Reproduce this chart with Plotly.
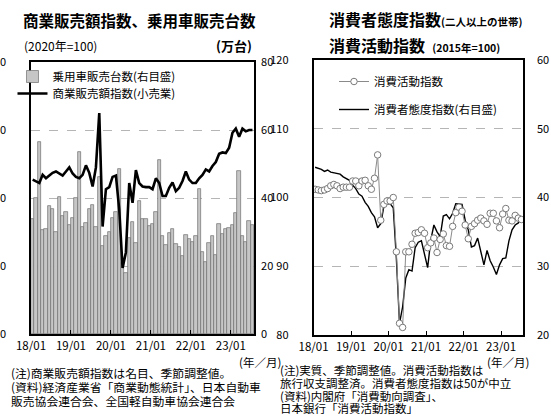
import plotly.graph_objects as go
import numpy as np

# ---------------- data ----------------
# monthly, 2018/01 .. 2023/07 (67 months)
year_ticks = ["18/01", "19/01", "20/01", "21/01", "22/01", "23/01"]

# 乗用車販売台数 (万台, right axis of left panel)
car_sales = [
    33.9, 40.0, 56.4, 30.6, 30.8, 37.7, 36.8, 30.0, 40.3, 34.8, 35.8, 32.0,
    34.2, 40.0, 53.5, 31.4, 32.6, 36.7, 37.9, 31.6, 46.1, 26.0, 28.7, 30.0,
    34.0, 36.0, 48.4, 21.0, 17.8, 28.2, 32.8, 26.9, 39.2, 33.9, 33.9, 31.8,
    32.4, 36.0, 51.3, 28.9, 26.2, 29.6, 30.8, 26.5, 25.7, 22.9, 29.0, 27.9,
    27.2, 28.9, 42.6, 24.2, 21.1, 26.7, 28.7, 23.2, 32.4, 29.4, 30.8, 31.1,
    32.0, 35.5, 47.9, 28.9, 27.2, 33.1, 32.1,
]

# 商業販売額指数(小売業), 2020=100 (left axis of left panel)
retail_index = [
    102.7, 102.5, 102.2, 103.4, 102.9, 103.3, 103.7, 103.9, 103.6, 103.3, 103.9, 104.5,
    103.6, 103.1, 102.9, 103.4, 104.8, 103.7, 101.7, 104.5, 112.5, 95.8, 101.3, 101.6,
    103.1, 103.3, 98.3, 89.7, 92.0, 102.2, 99.3, 104.1, 102.2, 101.7, 101.6, 101.6,
    101.3, 102.9, 102.2, 100.3, 100.3, 101.5, 102.3, 101.0, 101.5, 102.5, 103.9, 102.7,
    102.2, 102.2, 102.9, 103.4, 104.2, 103.9, 104.7, 105.3, 106.5, 106.7, 106.6, 107.4,
    109.6, 110.2, 109.0, 110.2, 109.8, 110.0, 110.0,
]

# 消費活動指数, 2015=100 (left axis of right panel)
activity_index = [
    101.2, 101.1, 101.0, 101.1, 101.3, 101.7, 101.9, 101.7, 101.3, 101.5, 101.5, 101.5,
    102.4, 102.4, 101.7, 102.4, 102.5, 101.7, 101.2, 102.8, 106.2, 96.7, 99.0, 99.5,
    99.5, 100.0, 92.1, 81.7, 81.1, 92.1, 92.1, 93.2, 94.8, 94.9, 95.3, 94.8,
    92.7, 93.4, 94.1, 92.0, 93.9, 94.7, 93.0, 92.9, 95.8, 97.8, 98.6, 98.0,
    96.0, 94.0, 95.8, 96.2, 96.7, 97.0, 96.6, 96.1, 97.7, 97.7, 96.6, 95.6,
    97.6, 98.4, 96.7, 96.6, 97.4, 97.0, 96.8,
]

# 消費者態度指数 (right axis of right panel)
confidence_index = [
    44.4, 44.3, 44.1, 43.8, 44.0, 43.7, 43.6, 43.5, 43.4, 43.0, 42.8, 42.5,
    41.8, 41.3, 40.5, 40.2, 39.3, 38.7, 37.8, 37.2, 35.6, 36.2, 38.7, 39.1,
    39.1, 38.5, 31.1, 21.7, 24.1, 28.3, 29.5, 29.3, 32.7, 33.5, 33.7, 31.8,
    29.8, 33.8, 36.0, 35.0, 34.3, 37.3, 37.5, 36.9, 37.7, 39.1, 39.1, 39.0,
    36.7, 35.3, 32.8, 33.0, 34.1, 32.1, 30.2, 32.3, 30.8, 29.9, 28.8, 30.2,
    31.1, 31.2, 33.7, 35.3, 36.0, 36.3, 37.0,
]

n = len(car_sales)
xpos = np.arange(n) + 0.5
tickpos = [12 * k for k in range(len(year_ticks))]

FONT = "Noto Sans CJK JP"
W, H = 551, 420
ML, MR, MT, MB = 18, 28, 60, 85
PW, PH = W - ML - MR, H - MT - MB


def px(xp):
    return (xp - ML) / PW


def py(yp):
    return (H - MB - yp) / PH


fig = go.Figure()

# ---- left panel ----
fig.add_trace(go.Bar(
    x=xpos, y=car_sales, name="乗用車販売台数(右目盛)",
    marker=dict(color="#c6c6c6", line=dict(color="#6f6f6f", width=0.7)),
    width=1.0, xaxis="x", yaxis="y", legend="legend",
))
fig.add_trace(go.Scatter(
    x=xpos, y=retail_index, name="商業販売額指数(小売業)", mode="lines",
    line=dict(color="black", width=2.6), xaxis="x", yaxis="y2", legend="legend3",
))

# ---- right panel ----
fig.add_trace(go.Scatter(
    x=xpos, y=activity_index, name="消費活動指数", mode="lines+markers",
    line=dict(color="#8a8a8a", width=1),
    marker=dict(symbol="circle", size=6.5, color="white", line=dict(color="#7a7a7a", width=1)),
    xaxis="x2", yaxis="y4", legend="legend2",
))
fig.add_trace(go.Scatter(
    x=xpos, y=confidence_index, name="消費者態度指数(右目盛)", mode="lines",
    line=dict(color="black", width=1.4),
    xaxis="x2", yaxis="y3", legend="legend4",
))

axis_common = dict(showline=True, linecolor="black", linewidth=1.5, mirror=True,
                   zeroline=False, automargin=False)
yfont = dict(tickfont=dict(family=FONT, size=11, color="black"))
xfont = dict(tickfont=dict(family=FONT, size=11.5, color="black"))
grid = dict(showgrid=True, gridcolor="#b5b5b5", griddash="dash", gridwidth=0.8)


def leg(xp, yp):
    return dict(x=px(xp), y=py(yp), xanchor="left", yanchor="top",
                bgcolor="rgba(0,0,0,0)", font=dict(family=FONT, size=11.5),
                itemwidth=30)


ldom = [py(334), py(62)]
fig.update_layout(
    width=W, height=H,
    margin=dict(l=ML, r=MR, t=MT, b=MB),
    paper_bgcolor="white", plot_bgcolor="white",
    bargap=0,
    font=dict(family=FONT, color="black"),
    xaxis=dict(domain=[0, px(247)], range=[0, n], anchor="y",
               tickvals=tickpos, ticktext=year_ticks, ticks="inside", ticklen=4,
               tickcolor="black", showgrid=False, **axis_common, **xfont),
    yaxis=dict(domain=ldom, range=[0, 80], tickvals=[0, 20, 40, 60, 80], side="right",
               anchor="x", ticks="", ticklabelstandoff=3, **grid, **axis_common, **yfont),
    yaxis2=dict(domain=ldom, range=[80, 120], tickvals=[80, 90, 100, 110, 120], side="left",
                overlaying="y", anchor="x", ticks="", showgrid=False, ticklabelstandoff=21,
                **axis_common, **yfont),
    xaxis2=dict(domain=[px(308), 1], range=[0, n], anchor="y3",
                tickvals=tickpos, ticktext=year_ticks, ticks="inside", ticklen=4,
                tickcolor="black", showgrid=False, **axis_common, **xfont),
    yaxis3=dict(domain=[0, 1], range=[20, 60], tickvals=[20, 30, 40, 50, 60], side="right",
                anchor="x2", ticks="", ticklabelstandoff=10, **grid, **axis_common, **yfont),
    yaxis4=dict(domain=[0, 1], range=[80, 120], tickvals=[80, 90, 100, 110, 120], side="left",
                overlaying="y3", anchor="x2", ticks="", showgrid=False, ticklabelstandoff=21,
                **axis_common, **yfont),
    legend=leg(-1, 62),
    legend3=leg(-1, 79),
    legend2=leg(329, 67),
    legend4=leg(329, 95),
    showlegend=True,
)


def ann(text, xp, yp, size, xanchor="left", yanchor="middle"):
    fig.add_annotation(text=text, x=px(xp), y=py(yp), xref="paper", yref="paper",
                       xanchor=xanchor, yanchor=yanchor, showarrow=False,
                       font=dict(family=FONT, size=size, color="black"), align="left")


# titles and units
ann("<b>商業販売額指数、乗用車販売台数</b>", 129, 20, 15.5, xanchor="center")
ann("(2020年=100)", 9, 46, 12)
ann("<b>(万台)</b>", 247, 46, 13, xanchor="right")
ann("<b>消費者態度指数<span style='font-size:10.5px'>(二人以上の世帯)</span></b>", 322, 19, 16)
ann("<b>消費活動指数  <span style='font-size:10.5px'>(2015年=100)</span></b>", 322, 45, 16)

# year/month unit
ann("(年／月)", 253, 362, 11.5, xanchor="center")
ann("(年／月)", 508, 362, 11.5, xanchor="center")

# notes
left_notes = [
    "(注)商業販売額指数は名目、季節調整値。",
    "(資料)経済産業省「商業動態統計」、日本自動車",
    "販売協会連合会、全国軽自動車協会連合会",
]
for k, t in enumerate(left_notes):
    ann(t, -5, 372 + 14 * k, 11.8)

right_notes = [
    "(注)実質、季節調整値。消費活動指数は",
    "旅行収支調整済。消費者態度指数は50が中立",
    "(資料)内閣府「消費動向調査」、",
    "日本銀行「消費活動指数」",
]
for k, t in enumerate(right_notes):
    ann(t, 272, 370 + 12.8 * k, 11.5)

fig.write_html("out.html", config={"displayModeBar": False},
               post_script="document.body.style.margin='0';")
